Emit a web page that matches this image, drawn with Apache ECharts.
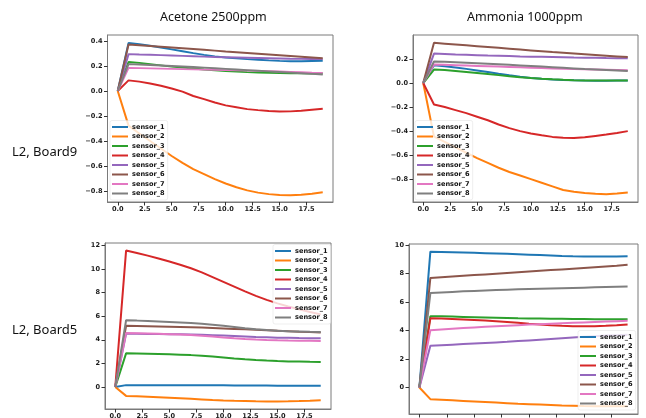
<!DOCTYPE html>
<html>
<head>
<meta charset="utf-8">
<script src="https://cdn.jsdelivr.net/npm/echarts@6/dist/echarts.min.js"></script>
<style>
html,body{margin:0;padding:0;background:#fff;}
#chart{width:646px;height:418px;}
</style>
</head>
<body>
<div id="chart"></div>
<script>
const sensorNames = ['sensor_1','sensor_2','sensor_3','sensor_4','sensor_5','sensor_6','sensor_7','sensor_8'];
const sensorColors = ['#1f77b4','#ff7f0e','#2ca02c','#d62728','#9467bd','#8c564b','#e377c2','#7f7f7f'];
const xValues = [0,1,2,3,4,5,6,7,8,9,10,11,12,13,14,15,16,17,18,19];
const xTicks = [0,2.5,5,7.5,10,12.5,15,17.5];
const colTitles = ['Acetone 2500ppm','Ammonia 1000ppm'];
const rowTitles = ['L2, Board9','L2, Board5'];

// Acetone 2500ppm, L2 Board9
const acetoneBoard9 = [
  [0,0.385,0.375,0.362,0.348,0.333,0.318,0.303,0.289,0.277,0.268,0.261,0.255,0.25,0.245,0.241,0.238,0.238,0.24,0.242],
  [0,-0.277,-0.34,-0.4,-0.46,-0.52,-0.575,-0.625,-0.665,-0.705,-0.74,-0.77,-0.795,-0.813,-0.825,-0.832,-0.834,-0.83,-0.822,-0.81],
  [0,0.232,0.225,0.215,0.205,0.195,0.187,0.18,0.172,0.165,0.16,0.155,0.151,0.148,0.146,0.144,0.142,0.141,0.14,0.14],
  [0,0.085,0.075,0.06,0.042,0.02,-0.005,-0.04,-0.065,-0.092,-0.115,-0.13,-0.145,-0.153,-0.16,-0.164,-0.163,-0.158,-0.15,-0.142],
  [0,0.295,0.292,0.29,0.287,0.284,0.281,0.278,0.275,0.272,0.27,0.268,0.266,0.264,0.262,0.26,0.258,0.257,0.256,0.255],
  [0,0.372,0.366,0.36,0.354,0.348,0.342,0.336,0.33,0.323,0.316,0.31,0.304,0.298,0.292,0.286,0.28,0.274,0.268,0.262],
  [0,0.185,0.183,0.181,0.179,0.177,0.175,0.173,0.171,0.169,0.167,0.165,0.163,0.161,0.159,0.156,0.153,0.15,0.147,0.145],
  [0,0.215,0.212,0.208,0.204,0.2,0.196,0.192,0.187,0.182,0.177,0.172,0.167,0.162,0.157,0.152,0.147,0.142,0.137,0.132]
];
// Ammonia 1000ppm, L2 Board9
const ammoniaBoard9 = [
  [0,0.148,0.14,0.13,0.118,0.105,0.092,0.078,0.065,0.053,0.043,0.036,0.03,0.026,0.023,0.021,0.02,0.02,0.021,0.022],
  [0,-0.446,-0.49,-0.535,-0.58,-0.625,-0.665,-0.705,-0.74,-0.77,-0.8,-0.83,-0.86,-0.89,-0.905,-0.915,-0.922,-0.925,-0.92,-0.91],
  [0,0.112,0.108,0.1,0.092,0.084,0.075,0.066,0.057,0.049,0.042,0.036,0.031,0.027,0.024,0.022,0.021,0.021,0.021,0.022],
  [0,-0.178,-0.2,-0.225,-0.25,-0.28,-0.31,-0.345,-0.375,-0.4,-0.42,-0.435,-0.448,-0.455,-0.458,-0.452,-0.44,-0.428,-0.415,-0.4],
  [0,0.245,0.242,0.238,0.235,0.232,0.229,0.227,0.225,0.222,0.22,0.218,0.216,0.214,0.212,0.211,0.21,0.208,0.207,0.206],
  [0,0.335,0.328,0.321,0.314,0.307,0.3,0.293,0.286,0.279,0.272,0.265,0.258,0.252,0.246,0.24,0.234,0.228,0.222,0.216],
  [0,0.155,0.152,0.149,0.146,0.143,0.14,0.137,0.134,0.131,0.128,0.125,0.122,0.119,0.117,0.115,0.113,0.111,0.109,0.107],
  [0,0.18,0.177,0.173,0.169,0.165,0.161,0.157,0.152,0.147,0.142,0.137,0.132,0.127,0.122,0.117,0.113,0.109,0.105,0.101]
];
// Acetone 2500ppm, L2 Board5
const acetoneBoard5 = [
  [0,0.16,0.16,0.16,0.16,0.16,0.16,0.15,0.15,0.14,0.14,0.13,0.13,0.12,0.12,0.11,0.11,0.1,0.1,0.1],
  [0,-0.75,-0.78,-0.82,-0.86,-0.9,-0.95,-1.0,-1.05,-1.1,-1.14,-1.17,-1.19,-1.21,-1.22,-1.22,-1.21,-1.19,-1.16,-1.12],
  [0,2.85,2.84,2.82,2.8,2.77,2.74,2.7,2.65,2.58,2.5,2.42,2.35,2.29,2.24,2.2,2.17,2.15,2.13,2.12],
  [0,11.55,11.35,11.12,10.88,10.62,10.35,10.05,9.7,9.3,8.9,8.5,8.1,7.72,7.38,7.08,6.82,6.58,6.35,6.15],
  [0,4.5,4.5,4.49,4.48,4.47,4.46,4.44,4.42,4.39,4.36,4.32,4.28,4.24,4.21,4.18,4.16,4.14,4.13,4.12],
  [0,5.18,5.16,5.14,5.12,5.1,5.08,5.06,5.03,5.0,4.96,4.92,4.88,4.84,4.8,4.76,4.72,4.68,4.65,4.62],
  [0,4.58,4.56,4.53,4.5,4.47,4.44,4.4,4.35,4.28,4.2,4.13,4.07,4.02,3.98,3.95,3.93,3.92,3.91,3.9],
  [0,5.65,5.62,5.58,5.54,5.5,5.46,5.41,5.35,5.27,5.18,5.08,4.98,4.9,4.83,4.77,4.73,4.7,4.67,4.65]
];
// Ammonia 1000ppm, L2 Board5
const ammoniaBoard5 = [
  [0,9.52,9.5,9.48,9.46,9.44,9.42,9.4,9.37,9.34,9.31,9.28,9.25,9.22,9.2,9.19,9.18,9.18,9.19,9.2],
  [0,-0.82,-0.86,-0.9,-0.94,-0.98,-1.02,-1.06,-1.1,-1.14,-1.17,-1.2,-1.23,-1.26,-1.28,-1.3,-1.31,-1.32,-1.32,-1.32],
  [0,5.0,4.99,4.97,4.95,4.93,4.91,4.89,4.87,4.85,4.84,4.83,4.82,4.81,4.8,4.8,4.79,4.79,4.78,4.78],
  [0,4.85,4.83,4.8,4.77,4.73,4.69,4.64,4.59,4.53,4.47,4.42,4.37,4.33,4.3,4.29,4.3,4.33,4.37,4.42],
  [0,2.92,2.96,3.0,3.04,3.08,3.12,3.16,3.2,3.25,3.3,3.35,3.4,3.45,3.5,3.55,3.6,3.64,3.67,3.7],
  [0,7.68,7.73,7.78,7.83,7.88,7.93,7.98,8.03,8.08,8.13,8.18,8.23,8.28,8.33,8.38,8.43,8.48,8.53,8.6],
  [0,4.02,4.07,4.12,4.17,4.21,4.25,4.29,4.33,4.37,4.41,4.44,4.47,4.5,4.53,4.56,4.59,4.62,4.65,4.68],
  [0,6.62,6.66,6.7,6.74,6.77,6.8,6.83,6.86,6.88,6.9,6.92,6.94,6.96,6.98,7.0,7.02,7.04,7.06,7.08]
];

const yTicksTL = [-0.8,-0.6,-0.4,-0.2,0,0.2,0.4];
const yTicksTR = [-0.8,-0.6,-0.4,-0.2,0,0.2];
const yTicksBL = [0,2,4,6,8,10,12];
const yTicksBR = [0,2,4,6,8,10];

const panels = [
  {data: acetoneBoard9, grid:{left:107.5, top:35, width:225.5, height:167}, ymin:-0.888, ymax:0.448, yTicks:yTicksTL, dec:1, legend:{x:112, y:127}},
  {data: ammoniaBoard9, grid:{left:413, top:35, width:225, height:167}, ymin:-0.99, ymax:0.4, yTicks:yTicksTR, dec:1, legend:{x:417, y:127}},
  {data: acetoneBoard5, grid:{left:105, top:243, width:226, height:166}, ymin:-1.86, ymax:12.19, yTicks:yTicksBL, dec:0, legend:{x:275, y:251}},
  {data: ammoniaBoard5, grid:{left:409, top:244, width:229, height:170}, ymin:-1.86, ymax:10.06, yTicks:yTicksBR, dec:0, legend:{x:580, y:337}}
];

const tickFont = {fontFamily:'DejaVu Sans', fontSize:6.6, fontWeight:'bold', color:'#1a1a1a'};
const frameColor = '#7a7a7a';
function fmt(v, d){ const s = v.toFixed(d); return s.replace('-', '\u2212'); }

const grids = [], xAxes = [], yAxes = [], series = [], legends = [];
panels.forEach((p, i) => {
  grids.push(Object.assign({show:true, borderColor:frameColor, borderWidth:1, backgroundColor:'transparent',
    containLabel:false, outerBoundsMode:'none'}, p.grid));
  xAxes.push({
    gridIndex:i, type:'value', min:-0.95, max:19.95, position:'bottom',
    splitLine:{show:false}, axisLine:{show:true, onZero:false, lineStyle:{color:frameColor, width:1}},
    axisTick:{show:true, customValues:xTicks, length:3.5, lineStyle:{color:'#333', width:1}},
    axisLabel:Object.assign({show:true, customValues:xTicks, margin:4, formatter:v=>fmt(v,1)}, tickFont)
  });
  yAxes.push({
    gridIndex:i, type:'value', min:p.ymin, max:p.ymax, position:'left',
    splitLine:{show:false}, axisLine:{show:true, onZero:false, lineStyle:{color:frameColor, width:1}},
    axisTick:{show:true, customValues:p.yTicks, length:3.5, lineStyle:{color:'#333', width:1}},
    axisLabel:Object.assign({show:true, customValues:p.yTicks, margin:5, formatter:v=>fmt(v,p.dec)}, tickFont)
  });
  p.data.forEach((vals, k) => {
    series.push({
      type:'line', name:sensorNames[k], xAxisIndex:i, yAxisIndex:i,
      data: xValues.map((x, j) => [x, vals[j]]),
      showSymbol:false, symbol:'none', silent:true,
      lineStyle:{width:2, color:sensorColors[k]}, itemStyle:{color:sensorColors[k]},
      emphasis:{disabled:true}
    });
  });
  legends.push({
    data: sensorNames, orient:'vertical',
    left: p.legend.x - 2, top: p.legend.y - 4.5 - 2,
    padding:[2,3,2,2], itemGap:0.5, itemWidth:16, itemHeight:2, icon:'rect',
    backgroundColor:'rgba(255,255,255,0.8)', borderColor:'rgba(220,220,220,0.8)', borderWidth:0.6, borderRadius:2,
    selectedMode:false,
    textStyle:{fontFamily:'DejaVu Sans', fontSize:6.6, fontWeight:'bold', color:'#111', lineHeight:9, padding:[0,0,0,-1]}
  });
});

const textFont = '"Noto Sans", "Open Sans", sans-serif';
const graphic = [
  {type:'text', left:160, top:11, style:{text:colTitles[0], font:'12.5px ' + textFont, fill:'#111'}},
  {type:'text', left:467, top:11, style:{text:colTitles[1], font:'12.5px ' + textFont, fill:'#111'}},
  {type:'text', left:12, top:146, style:{text:rowTitles[0], font:'13px ' + textFont, fill:'#111'}},
  {type:'text', left:12, top:324, style:{text:rowTitles[1], font:'13px ' + textFont, fill:'#111'}}
];

const chart = echarts.init(document.getElementById('chart'), null, {renderer:'canvas'});
chart.setOption({
  animation:false,
  backgroundColor:'#fff',
  grid:grids, xAxis:xAxes, yAxis:yAxes, series:series, legend:legends, graphic:graphic
});
</script>
</body>
</html>
